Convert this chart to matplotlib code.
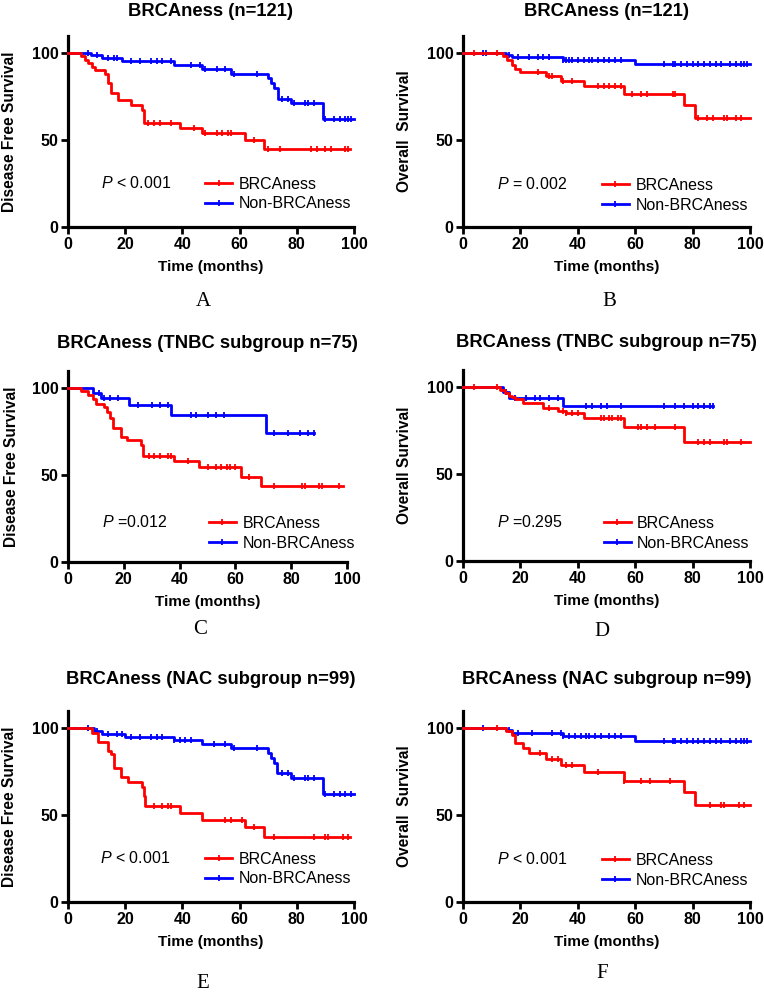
import numpy as np
import matplotlib
matplotlib.use("Agg")
import matplotlib.pyplot as plt
from matplotlib.lines import Line2D

plt.rcParams['font.family'] = ['Liberation Sans', 'DejaVu Sans']
plt.rcParams['mathtext.fontset'] = 'custom'
plt.rcParams['mathtext.it'] = 'Liberation Sans:italic'
plt.rcParams['mathtext.rm'] = 'Liberation Sans'

RED = '#ff0000'
BLUE = '#0000ff'

# ---- A: DFS, all patients ----
a_red_t = [0, 4.5, 6, 7, 8.5, 9.5, 13, 14, 15, 17.5, 22, 26, 26.6, 39, 47, 62, 68.5, 98.5]
a_red_s = [100, 98, 96, 94, 92, 90, 88, 83, 77, 73, 70, 67, 60, 57, 54, 50, 45, 45]
a_red_c = [28, 30, 32, 36, 44, 48, 52, 54, 56, 57, 65, 70, 74, 85, 87, 90, 92, 97, 98]
a_blue_t = [0, 8, 12, 19, 37, 47, 57, 70, 71, 72, 73.5, 78, 89, 100]
a_blue_s = [100, 99, 97, 95.5, 93, 91, 88, 85.5, 83, 80, 73.5, 71, 62, 62]
a_blue_c = [7, 10, 14, 16, 17, 22, 25, 29, 31, 33, 36, 43, 46, 48, 52, 55, 58, 66,
            75, 77, 79, 83, 84, 86, 90, 93, 95, 97, 98, 99]

# ---- B: OS, all patients ----
b_red_t = [0, 14, 15.5, 17, 18, 20, 22, 29, 34, 42, 56, 77, 81, 100]
b_red_s = [100, 98, 96, 93, 91, 89, 89, 86.5, 84, 81, 76.5, 70, 62.5, 62.5]
b_red_c = [4, 12, 26, 30, 31, 35, 38, 47, 49, 51, 53, 55, 59, 62, 64, 73, 74,
           82, 85, 87, 91, 92, 95, 97]
b_blue_t = [0, 15, 17, 35, 60, 100]
b_blue_s = [100, 99, 97.5, 96, 93.5, 93.5]
b_blue_c = [7, 8, 16, 19, 23, 26, 28, 30, 35, 36, 37, 38, 40, 42, 44, 45, 47, 49,
            51, 53, 55, 70, 73, 74, 76, 78, 80, 82, 84, 86, 88, 90, 93, 95, 97, 98, 99]

# ---- C: DFS, TNBC subgroup ----
c_red_t = [0, 4.5, 7, 9, 10, 13, 14, 15, 16, 19, 21, 26, 27, 38, 47, 62, 69, 98.5]
c_red_s = [100, 98, 96, 93.5, 91, 89, 86, 83, 77, 72, 70, 67, 61, 58, 54.5, 49, 43.5, 43.5]
c_red_c = [29, 31, 33, 36, 37, 43, 50, 53, 55, 57, 58, 60, 65, 74, 84, 85, 90, 91, 97]
c_blue_t = [0, 9, 12, 22, 37, 71, 88]
c_blue_s = [100, 97, 94, 90, 84.5, 74, 74]
c_blue_c = [11, 13, 15, 18, 25, 30, 33, 36, 44, 46, 50, 53, 56, 74, 79, 83, 86, 88]

# ---- D: OS, TNBC subgroup ----
d_red_t = [0, 13, 14.5, 16, 17, 18, 21, 28, 33, 36, 42, 56, 77, 100]
d_red_s = [100, 98, 96.5, 95, 94, 93, 91, 88, 86, 85, 82, 77, 68.5, 68.5]
d_red_c = [4, 12, 30, 35, 36, 38, 40, 48, 49, 51, 52, 54, 55, 61, 62, 64, 67, 74,
           82, 84, 86, 91, 92, 97]
d_blue_t = [0, 14, 16, 35, 87]
d_blue_s = [100, 97, 93.5, 89, 89]
d_blue_c = [15, 18, 22, 25, 27, 30, 33, 43, 45, 48, 50, 55, 70, 74, 77, 80, 82, 84, 86, 87]

# ---- E: DFS, NAC subgroup ----
e_red_t = [0, 8.5, 10.5, 14, 15, 16, 18.5, 21, 26, 26.5, 27, 39, 47, 62, 68.5, 98.5]
e_red_s = [100, 97, 92, 87, 85, 77, 72, 69, 66, 61, 55, 51, 47, 43, 37.5, 37.5]
e_red_c = [30, 33, 35, 36, 55, 57, 61, 65, 72, 86, 90, 91, 96, 98]
e_blue_t = [0, 9, 12, 20, 37, 47, 57, 70, 71, 72, 73, 78, 89, 100]
e_blue_s = [100, 98.5, 96.5, 95, 93, 91, 88.5, 85.5, 83, 80, 74, 71, 62, 62]
e_blue_c = [7, 10, 14, 17, 19, 22, 25, 29, 31, 33, 37, 39, 41, 43, 51, 55, 58, 66,
            75, 77, 79, 83, 84, 86, 90, 93, 95, 97, 99]

# ---- F: OS, NAC subgroup ----
f_red_t = [0, 15, 17, 18, 21, 23, 29, 34, 42, 56, 77, 81, 100]
f_red_s = [100, 98, 96, 91.5, 88.5, 85.5, 82, 79, 75, 69.5, 63, 56, 56]
f_red_c = [12, 27, 31, 33, 36, 38, 47, 56, 62, 65, 72, 86, 90, 91, 96, 98]
f_blue_t = [0, 15, 17, 35, 60, 100]
f_blue_s = [100, 99, 97, 95.5, 92.5, 92.5]
f_blue_c = [7, 16, 19, 24, 31, 34, 35, 37, 39, 41, 43, 44, 46, 48, 51, 53, 55, 70,
            73, 74, 76, 78, 80, 82, 84, 86, 88, 90, 93, 95, 97, 98, 99]

titles = ['BRCAness (n=121)', 'BRCAness (n=121)',
          'BRCAness (TNBC subgroup n=75)', 'BRCAness (TNBC subgroup n=75)',
          'BRCAness (NAC subgroup n=99)', 'BRCAness (NAC subgroup n=99)']
ylabels = ['Disease Free Survival', 'Overall  Survival', 'Disease Free Survival',
           'Overall Survival', 'Disease Free Survival', 'Overall  Survival']
pvals = ['$\\it{P}$ < 0.001', '$\\it{P}$ = 0.002', '$\\it{P}$ =0.012',
         '$\\it{P}$ =0.295', '$\\it{P}$ < 0.001', '$\\it{P}$ < 0.001']
letters = ['A', 'B', 'C', 'D', 'E', 'F']

curves = [
    (a_red_t, a_red_s, a_red_c, a_blue_t, a_blue_s, a_blue_c),
    (b_red_t, b_red_s, b_red_c, b_blue_t, b_blue_s, b_blue_c),
    (c_red_t, c_red_s, c_red_c, c_blue_t, c_blue_s, c_blue_c),
    (d_red_t, d_red_s, d_red_c, d_blue_t, d_blue_s, d_blue_c),
    (e_red_t, e_red_s, e_red_c, e_blue_t, e_blue_s, e_blue_c),
    (f_red_t, f_red_s, f_red_c, f_blue_t, f_blue_s, f_blue_c),
]

W, H = 764, 992
# pixel layout: left, right, y of zero line
boxes = [(68, 354, 227), (463, 750, 227),
         (68, 347, 562), (463, 750, 561),
         (68, 354, 902), (463, 750, 902)]
AX_H = 191.4
title_pads = [14, 14, 16, 16, 19, 19]
letter_pos = [(203, 302), (609, 302), (200, 630), (602, 632), (203, 983), (602, 973)]
p_pos = [(0.115, 0.23), (0.118, 0.225), (0.122, 0.209),
         (0.118, 0.204), (0.112, 0.23), (0.118, 0.225)]
leg_pos = [(0.479, 0.172), (0.484, 0.165), (0.505, 0.149),
           (0.49, 0.144), (0.479, 0.172), (0.484, 0.165)]


def km(ax, t, s, cens, color, z):
    ax.step(t, s, where='post', color=color, lw=2.0, zorder=z, clip_on=False)
    t = np.asarray(t)
    s = np.asarray(s)
    idx = np.searchsorted(t, cens, side='right') - 1
    ax.plot(cens, s[idx], ls='none', marker='|', ms=4.5, mew=1.3,
            color=color, zorder=z, clip_on=False)


fig = plt.figure(figsize=(W / 100, H / 100), dpi=100)

for i in range(6):
    l, r, y0 = boxes[i]
    ax = fig.add_axes([l / W, (H - y0) / H, (r - l) / W, AX_H / H])
    rt, rs, rc, bt, bs, bc = curves[i]
    km(ax, bt, bs, bc, BLUE, 3)
    km(ax, rt, rs, rc, RED, 4)

    ax.set_xlim(0, 100)
    ax.set_ylim(0, 110)
    ax.set_xticks([0, 20, 40, 60, 80, 100])
    ax.set_yticks([0, 50, 100])
    for side in ['top', 'right']:
        ax.spines[side].set_visible(False)
    for side in ['left', 'bottom']:
        ax.spines[side].set_linewidth(2.3)
    ax.tick_params(width=2, length=5, labelsize=11.5, pad=2)
    for lab in ax.get_xticklabels() + ax.get_yticklabels():
        lab.set_fontweight('bold')

    ax.set_title(titles[i], fontsize=13.2, fontweight='bold', pad=title_pads[i])
    ax.set_xlabel('Time (months)', fontsize=11, fontweight='bold')
    ax.xaxis.set_label_coords(0.5, -0.21)
    ax.xaxis.label.set_va('center')
    ax.set_ylabel(ylabels[i], fontsize=11.2, fontweight='bold')
    ax.yaxis.set_label_coords(-0.203, 0.5)
    ax.yaxis.label.set_va('center')

    ax.text(p_pos[i][0], p_pos[i][1], pvals[i], transform=ax.transAxes,
            fontsize=11.5, va='center', ha='left')

    handles = [Line2D([], [], color=RED, lw=2.0, marker='|', ms=4.5, mew=1.3),
               Line2D([], [], color=BLUE, lw=2.0, marker='|', ms=4.5, mew=1.3)]
    ax.legend(handles, ['BRCAness', 'Non-BRCAness'], loc='center left',
              bbox_to_anchor=leg_pos[i], frameon=False, fontsize=11.5,
              handlelength=1.7, handletextpad=0.4, labelspacing=0.3,
              borderpad=0, borderaxespad=0, numpoints=1)

    fig.text(letter_pos[i][0] / W, 1 - letter_pos[i][1] / H, letters[i],
             family=['Liberation Serif', 'DejaVu Serif'], fontsize=15,
             ha='center', va='center')

fig.savefig('out.png', dpi=100)
